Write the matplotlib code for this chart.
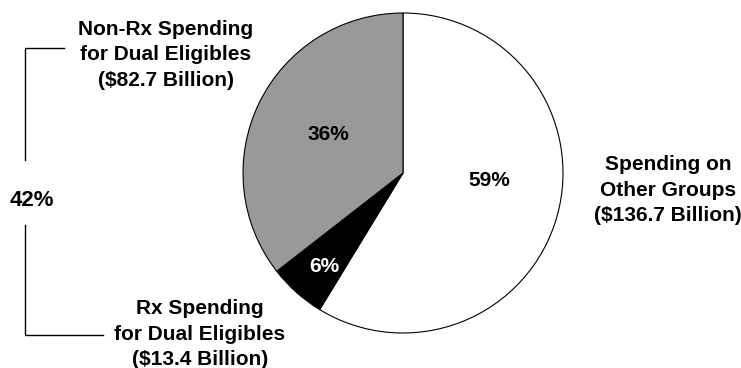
import matplotlib.pyplot as plt

# Spending split, billions of dollars
groups = ["Spending on\nOther Groups", "Rx Spending\nfor Dual Eligibles", "Non-Rx Spending\nfor Dual Eligibles"]
spending = [136.7, 13.4, 82.7]
colors = ["white", "black", "#999999"]
pct_colors = ["black", "white", "black"]

plt.rcParams["font.family"] = ["Liberation Sans", "DejaVu Sans"]
plt.rcParams["font.weight"] = "bold"

W, H = 741, 368
fig = plt.figure(figsize=(W / 100, H / 100), dpi=100)
ax = fig.add_axes([0, 0, 1, 1])

font = dict(fontsize=15, fontweight="bold", ha="center", va="center", linespacing=1.42)

cx, cy, r = 403, H - 173, 160
ax.pie(spending, colors=colors, startangle=90, counterclock=False,
       center=(cx, cy), radius=r, frame=True,
       wedgeprops=dict(edgecolor="black", linewidth=0.8))
ax.set_xlim(0, W)
ax.set_ylim(0, H)
ax.set_aspect("equal")
ax.axis("off")

total = sum(spending)
pct = [round(v / total * 100) for v in spending]

# percentage labels inside the slices
pct_pos = [(489, 181), (324, 266), (328, 134)]
for p, (x, y), c in zip(pct, pct_pos, pct_colors):
    ax.text(x, H - y, f"{p}%", color=c, **font)

# group labels outside the pie
label_pos = [(668, 190), (200, 334), (166, 55)]
for g, v, (x, y) in zip(groups, spending, label_pos):
    ax.text(x, H - y, f"{g}\n(${v} Billion)", **font)

# bracket joining the two dual-eligible slices
lw = 1.0
ax.plot([64, 25, 25], [H - 48, H - 48, H - 160], color="black", lw=lw)
ax.plot([25, 25, 103], [H - 225, H - 335, H - 335], color="black", lw=lw)
ax.text(32, H - 200, f"{pct[1] + pct[2]}%", **dict(font, fontsize=16))

fig.savefig("out.png", dpi=100)
